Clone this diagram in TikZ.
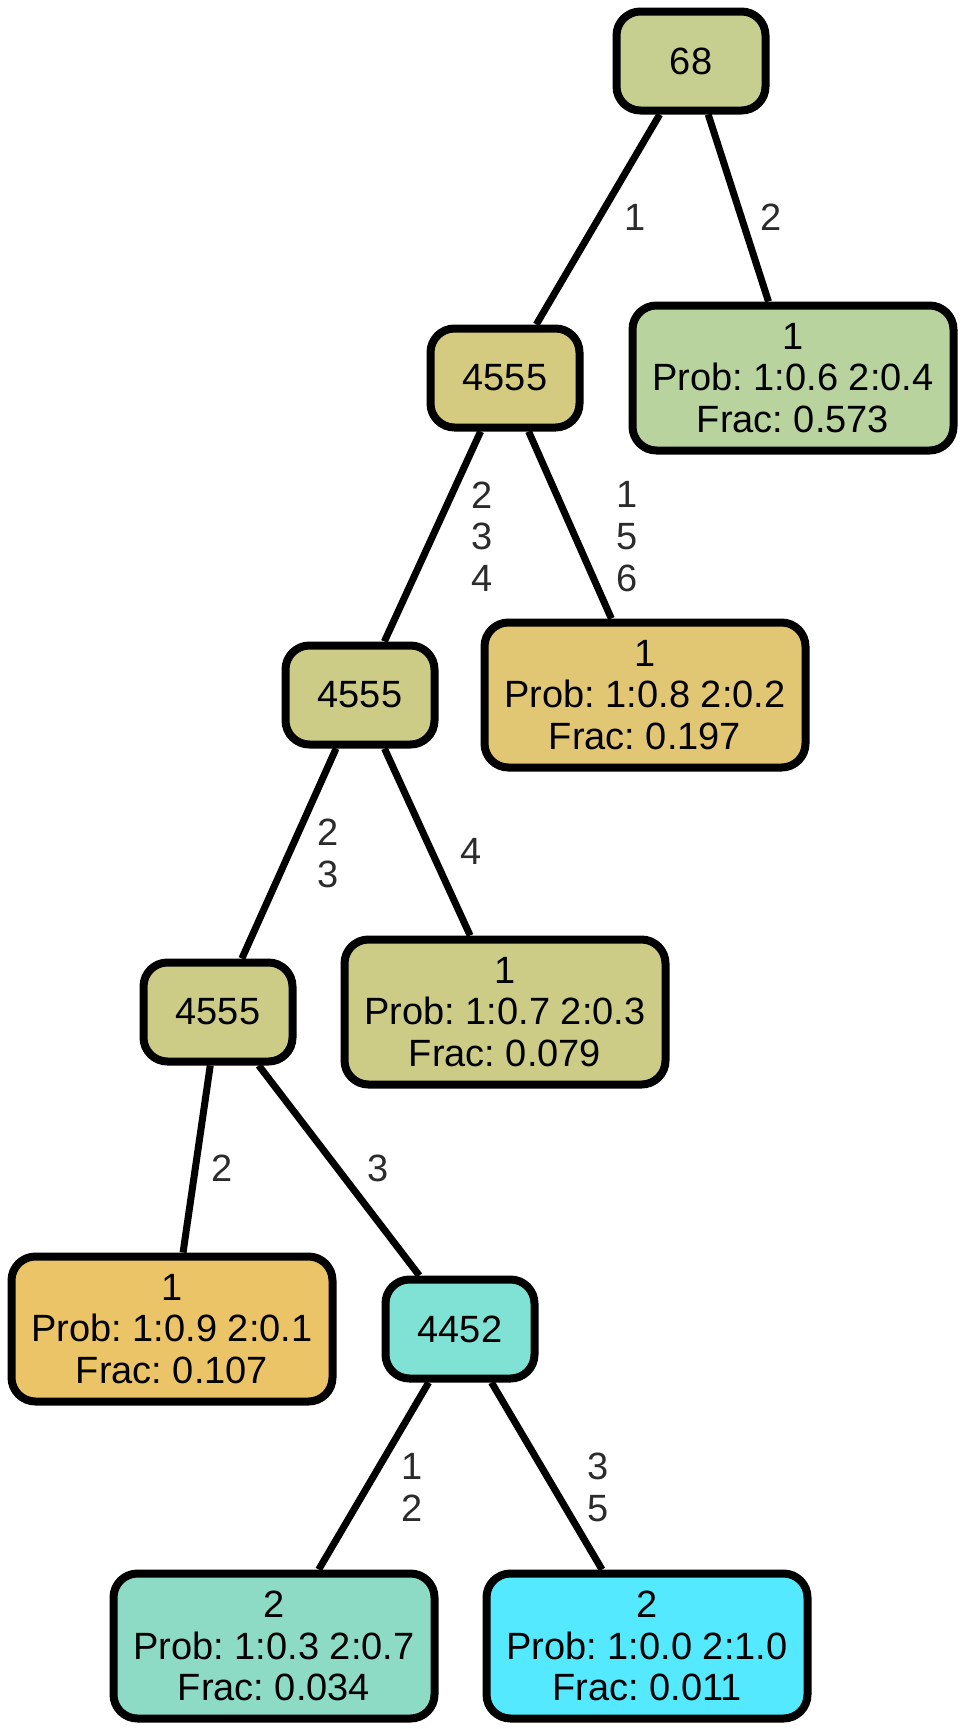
\documentclass[tikz,border=0pt]{standalone}
\usepackage{fontspec}
\setmainfont{Liberation Sans}
\frenchspacing
\usetikzlibrary{calc}
\definecolor{c68}{HTML}{C6CF8F}
\definecolor{cA}{HTML}{D5CB80}
\definecolor{cB}{HTML}{CDCC87}
\definecolor{cLa}{HTML}{B8D39D}
\definecolor{cLb}{HTML}{E1C774}
\definecolor{cLd}{HTML}{EBC467}
\definecolor{cT}{HTML}{7FE2D5}
\definecolor{cLe}{HTML}{8EDBC5}
\definecolor{cLf}{HTML}{55E9FF}
\definecolor{lblgray}{HTML}{2B2B2B}
\begin{document}
\begin{tikzpicture}[line width=7pt,node distance=317pt,
  split node/.style={rectangle,rounded corners=24pt,draw,line width=8pt,
    minimum width=149pt,minimum height=99pt,inner sep=0pt,
    font=\fontsize{38}{41.7}\selectfont},
  leaf node/.style={split node,minimum width=321pt,minimum height=145pt,align=center},
  lbl/.style={text=lblgray,align=center,inner sep=0pt,font=\fontsize{38}{41.7}\selectfont}]
  \useasboundingbox (0pt,0pt) rectangle (961pt,-1729pt);
  % NODES
  \node[split node,fill=c68] (n68) at (691pt,-61pt) {68};
  \node[split node,fill=cA] (n4555a) [below of=n68,xshift=-186pt] {4555};
  \node[leaf node,fill=cLa] (leafA) [below of=n68,xshift=102pt] {1\\Prob: 1:0.6 2:0.4\\Frac: 0.573};
  \node[split node,fill=cB] (n4555b) [below of=n4555a,xshift=-145pt] {4555};
  \node[leaf node,fill=cLb] (leafB) [below of=n4555a,xshift=140pt] {1\\Prob: 1:0.8 2:0.2\\Frac: 0.197};
  \node[split node,fill=cB] (n4555c) [below of=n4555b,xshift=-142pt] {4555};
  \node[leaf node,fill=cB] (leafC) [below of=n4555b,xshift=145pt] {1\\Prob: 1:0.7 2:0.3\\Frac: 0.079};
  \node[leaf node,fill=cLd] (leafD) [below of=n4555c,xshift=-46pt] {1\\Prob: 1:0.9 2:0.1\\Frac: 0.107};
  \node[split node,fill=cT] (n4452) [below of=n4555c,xshift=242pt] {4452};
  \node[leaf node,fill=cLe] (leafE) [below of=n4452,xshift=-186pt] {2\\Prob: 1:0.3 2:0.7\\Frac: 0.034};
  \node[leaf node,fill=cLf] (leafF) [below of=n4452,xshift=187pt] {2\\Prob: 1:0.0 2:1.0\\Frac: 0.011};
  % PATHS
  \path
   (n68) edge (n4555a)
         edge (leafA);
  \path
   (n4555a) edge (n4555b)
            edge (leafB);
  \path
   (n4555b) edge (n4555c)
            edge (leafC);
  \path
   (n4555c) edge (leafD)
            edge (n4452);
  \path
   (n4452) edge (leafE)
           edge (leafF);
  % LABELS
  \node[lbl] (l1) at ($(n68)!.5!(n4555a)+(37pt,2.5pt)$) {1};
  \node[lbl] (l2) at ($(n68)!.5!(leafA)+(29pt,2.5pt)$) {2};
  \node[lbl] (l3) at ($(n4555a)!.5!(n4555b)+(49.5pt,0pt)$) {2\\3\\4};
  \node[lbl] (l4) at ($(n4555a)!.5!(leafB)+(52pt,0pt)$) {1\\5\\6};
  \node[lbl] (l5) at ($(n4555b)!.5!(n4555c)+(39pt,0pt)$) {2\\3};
  \node[lbl] (l6) at ($(n4555b)!.5!(leafC)+(38.5pt,2.5pt)$) {4};
  \node[lbl] (l7) at ($(n4555c)!.5!(leafD)+(27pt,2.5pt)$) {2};
  \node[lbl] (l8) at ($(n4555c)!.5!(n4452)+(39pt,2.5pt)$) {3};
  \node[lbl] (l9) at ($(n4452)!.5!(leafE)+(45pt,0pt)$) {1\\2};
  \node[lbl] (l10) at ($(n4452)!.5!(leafF)+(44.5pt,0pt)$) {3\\5};
\end{tikzpicture}
\end{document}
